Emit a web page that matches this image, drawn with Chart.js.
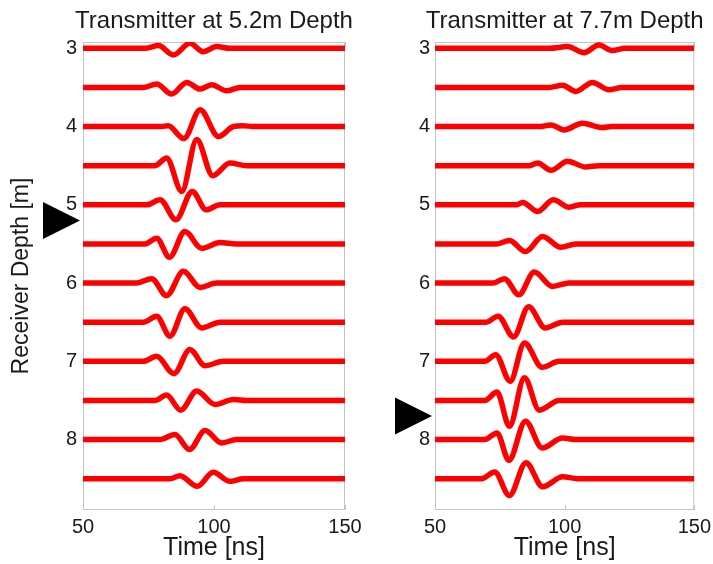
<!DOCTYPE html>
<html>
<head>
<meta charset="utf-8">
<script src="https://cdn.jsdelivr.net/npm/chart.js@4.4.1/dist/chart.umd.min.js"></script>
<style>
  html, body { margin: 0; padding: 0; background: #fff; overflow: hidden; }
  #wrap { position: relative; width: 713px; height: 564px; }
  canvas { position: absolute; top: 0; }
  #leftPanel { left: 0; }
  #rightPanel { left: 355px; }
</style>
</head>
<body>
<div id="wrap">
  <canvas id="leftPanel" width="375" height="564"></canvas>
  <canvas id="rightPanel" width="361" height="564"></canvas>
</div>
<script>
const timeTicks = [50, 100, 150];
const depthTicks = [3, 4, 5, 6, 7, 8];
const receiverDepths = [3, 3.5, 4, 4.5, 5, 5.5, 6, 6.5, 7, 7.5, 8, 8.5];
const txDepths = [5.2, 7.7];
const panelTitles = ["Transmitter at 5.2m Depth", "Transmitter at 7.7m Depth"];

// key points of each wiggle: [time ns, offset m], offset > 0 is drawn upward
const leftTraces = [
  [[74, 0], [78.8, 0.034], [84.5, -0.085], [90.8, 0.064], [95.9, -0.043], [101, 0.021], [106, 0]],
  [[73, 0], [78.1, 0.043], [83.8, -0.085], [89.6, 0.064], [94.7, -0.021], [99.1, 0.034], [104.8, -0.043], [110, 0]],
  [[80, 0], [82.5, 0.01], [88.5, -0.154], [94.7, 0.214], [101.7, -0.128], [107.4, 0], [111, 0.01], [115, 0]],
  [[77.5, 0], [81.9, 0.098], [87.7, -0.329], [93.4, 0.333], [99.5, -0.128], [106.1, 0.034], [112.5, 0]],
  [[74.3, 0], [79.4, 0.064], [85.5, -0.192], [91.7, 0.171], [97, -0.064], [102.3, 0]],
  [[73.7, 0], [78.1, 0.073], [83, -0.171], [88.9, 0.158], [95.3, -0.056], [102.3, 0.017], [108.6, 0]],
  [[70.5, 0], [76.2, 0.056], [81.9, -0.162], [88.3, 0.15], [94.7, -0.056], [101, 0]],
  [[73, 0], [78.1, 0.077], [83.2, -0.179], [88.9, 0.171], [95.3, -0.073], [102.3, 0]],
  [[73, 0], [78.1, 0.064], [84.7, -0.158], [90.8, 0.15], [96.6, -0.056], [103.6, 0]],
  [[77.5, 0], [81.9, 0.068], [87.3, -0.124], [93.4, 0.12], [100.4, -0.051], [107.4, 0.013], [112.5, 0]],
  [[79.4, 0], [85.1, 0.064], [90.6, -0.128], [96.6, 0.115], [102.9, -0.043], [108.6, 0]],
  [[83.2, 0], [87, 0.038], [93.6, -0.098], [99.7, 0.081], [106.1, -0.034], [111.2, 0]]
];

const rightTraces = [
  [[94.1, 0], [101.1, 0.021], [107.5, -0.056], [113.2, 0.043], [118.3, -0.03], [123.4, 0]],
  [[94, 0], [99.2, 0.026], [104.3, -0.051], [110.7, 0.064], [117, -0.03], [122.2, 0]],
  [[90.9, 0], [94.7, 0.021], [99.8, -0.043], [106.8, 0.043], [114.5, -0.013], [118.3, 0]],
  [[86.4, 0], [89.6, 0.034], [94.7, -0.06], [101.1, 0.056], [108.1, -0.017], [113.2, 0]],
  [[81.3, 0], [83.8, 0.03], [89.6, -0.085], [95.6, 0.064], [101.7, -0.03], [106.2, 0]],
  [[73.6, 0], [78.7, 0.043], [84.9, -0.098], [91.5, 0.094], [98.5, -0.043], [104.3, 0]],
  [[72.3, 0], [76.8, 0.056], [82.3, -0.15], [88.3, 0.141], [95.3, -0.043], [101.7, 0]],
  [[69.8, 0], [74.3, 0.077], [80.3, -0.188], [86.1, 0.197], [92.5, -0.073], [99.2, 0]],
  [[69.2, 0], [73.4, 0.085], [79, -0.256], [84.5, 0.235], [91.3, -0.077], [97.9, 0]],
  [[69.2, 0], [73.9, 0.107], [78.7, -0.33], [84.5, 0.29], [90.2, -0.124], [97.9, 0]],
  [[69.2, 0], [73.9, 0.085], [78.5, -0.265], [84.9, 0.235], [91.3, -0.107], [99.2, 0.021], [104.3, 0]],
  [[67.9, 0], [73, 0.085], [78.7, -0.214], [85.1, 0.205], [91.5, -0.103], [99.2, 0.026], [104.9, 0]]
];

const fontFamily = "'Liberation Sans', Arial, sans-serif";
Chart.defaults.font.family = fontFamily;
Chart.defaults.color = "#1a1a1a";

const textColor = "#1a1a1a";

// light grey box round the plot with small inward ticks
const framePlugin = {
  id: "frame",
  beforeDatasetsDraw(chart) {
    const { ctx, chartArea: a, scales } = chart;
    ctx.save();
    ctx.strokeStyle = "#c4c4c4";
    ctx.lineWidth = 1;
    ctx.strokeRect(a.left + 0.5, a.top + 0.5, a.right - a.left - 1, a.bottom - a.top - 1);
    ctx.beginPath();
    scales.x.ticks.forEach(t => {
      const px = Math.round(scales.x.getPixelForValue(t.value)) + 0.5;
      ctx.moveTo(px, a.bottom); ctx.lineTo(px, a.bottom - 5);
      ctx.moveTo(px, a.top); ctx.lineTo(px, a.top + 5);
    });
    ctx.stroke();
    ctx.restore();
  }
};

function makePanel(id, traces, txDepth, title, yAxisWidth, showYTitle, tickPad) {
  const datasets = traces.map((pts, i) => ({
    data: [[50, 0], ...pts, [150, 0]].map(([t, a]) => ({ x: t, y: receiverDepths[i] - a })),
    borderColor: "#ff0000",
    borderWidth: 5.5,
    pointRadius: 0,
    fill: false,
    cubicInterpolationMode: "monotone"
  }));

  // transmitter arrow and panel heading (heading may run wider than the plot)
  const marker = {
    id: "txMarker",
    afterDraw(chart) {
      const { ctx, chartArea: a, scales } = chart;
      const y = scales.y.getPixelForValue(txDepth);
      const tip = a.left - 3;
      ctx.save();
      ctx.fillStyle = "#000";
      ctx.beginPath();
      ctx.moveTo(tip, y);
      ctx.lineTo(tip - 37, y - 18.5);
      ctx.lineTo(tip - 37, y + 18.5);
      ctx.closePath();
      ctx.fill();

      ctx.fillStyle = textColor;
      ctx.font = "24px " + fontFamily;
      ctx.textAlign = "center";
      ctx.textBaseline = "alphabetic";
      ctx.fillText(title, (a.left + a.right) / 2, 27.5);
      ctx.restore();
    }
  };

  return new Chart(document.getElementById(id), {
    type: "line",
    data: { datasets },
    plugins: [framePlugin, marker],
    options: {
      responsive: false,
      animation: false,
      layout: { padding: { left: 0, right: id === "leftPanel" ? 30 : 20, top: 42, bottom: 0 } },
      plugins: {
        legend: { display: false },
        tooltip: { enabled: false },
        title: { display: false }
      },
      scales: {
        x: {
          type: "linear",
          min: 50,
          max: 150,
          afterBuildTicks: s => { s.ticks = timeTicks.map(v => ({ value: v })); },
          afterFit: s => { s.height = 54; },
          grid: { display: false, drawTicks: false },
          border: { display: false },
          ticks: { font: { size: 20 }, color: textColor, padding: 5, maxRotation: 0 },
          title: { display: true, text: "Time [ns]", color: textColor, font: { size: 25 }, padding: { top: 0, bottom: 1 } }
        },
        y: {
          type: "linear",
          reverse: true,
          min: 2.92,
          max: 8.9,
          afterBuildTicks: s => { s.ticks = depthTicks.map(v => ({ value: v })); },
          afterFit: s => { s.width = yAxisWidth; },
          grid: { display: false, drawTicks: false },
          border: { display: false },
          ticks: { font: { size: 20 }, color: textColor, padding: tickPad },
          title: { display: showYTitle, text: "Receiver Depth [m]", color: textColor, font: { size: 23 }, padding: { top: 8, bottom: 0 } }
        }
      }
    }
  });
}

makePanel("leftPanel", leftTraces, txDepths[0], panelTitles[0], 83, true, 6);
makePanel("rightPanel", rightTraces, txDepths[1], panelTitles[1], 80, false, 5);
</script>
</body>
</html>
